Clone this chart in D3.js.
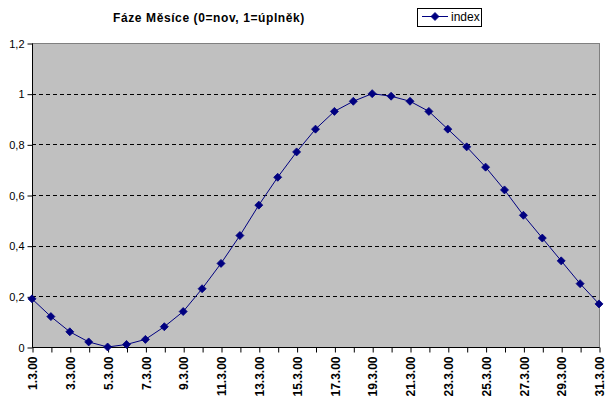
<!DOCTYPE html>
<html><head><meta charset="utf-8">
<script src="https://cdn.jsdelivr.net/npm/d3@7"></script>
<style>body{margin:0;background:#fff}svg{display:block}</style>
</head><body>
<svg id="c" width="615" height="407"></svg>
<script>
const categories = ["1.3.00","2.3.00","3.3.00","4.3.00","5.3.00","6.3.00","7.3.00","8.3.00","9.3.00","10.3.00","11.3.00","12.3.00","13.3.00","14.3.00","15.3.00","16.3.00","17.3.00","18.3.00","19.3.00","20.3.00","21.3.00","22.3.00","23.3.00","24.3.00","25.3.00","26.3.00","27.3.00","28.3.00","29.3.00","30.3.00","31.3.00"];
const indexValues = [0.19,0.12,0.06,0.02,0,0.01,0.03,0.08,0.14,0.23,0.33,0.44,0.56,0.67,0.77,0.86,0.93,0.97,1.0,0.99,0.97,0.93,0.86,0.79,0.71,0.62,0.52,0.43,0.34,0.25,0.17];
const yTicks = [0,0.2,0.4,0.6,0.8,1,1.2];
const title = "Fáze Měsíce (0=nov, 1=úplněk)";
const seriesName = "index";

const svg = d3.select("#c");
const L = 32, R = 599, T = 43, B = 347;
const x = d3.scalePoint().domain(categories).range([L, R]);
const y = d3.scaleLinear().domain([0, 1.2]).range([B, T]);
const navy = "#000080";
const font = "Arial, 'Liberation Sans', sans-serif";

// plot area
svg.append("rect").attr("x", L).attr("y", T).attr("width", R - L).attr("height", B - T)
  .attr("fill", "#c0c0c0").attr("stroke", "#808080").attr("stroke-width", 1)
  .attr("shape-rendering", "crispEdges");

// gridlines
svg.append("g").selectAll("line").data(yTicks.filter(d => d > 0 && d < 1.2)).join("line")
  .attr("x1", L).attr("x2", R).attr("y1", d => Math.round(y(d)) + 0.5).attr("y2", d => Math.round(y(d)) + 0.5)
  .attr("stroke", "#000").attr("stroke-dasharray", "4,3").attr("stroke-width", 1);

// y axis
const yAxis = d3.axisLeft(y).tickValues(yTicks).tickSize(5).tickPadding(3)
  .tickFormat(d => d3.format("~g")(d).replace(".", ","));
const gy = svg.append("g").attr("transform", `translate(${L + 0.5},0.5)`).call(yAxis);
gy.select(".domain").attr("stroke", "#000").attr("d", `M0,${T}V${B}`);
gy.selectAll(".tick line").attr("stroke", "#000");
gy.selectAll("text").attr("font-family", font).attr("font-size", 11).attr("fill", "#000");

// x axis
const xAxis = d3.axisBottom(x).tickSize(5).tickPadding(4)
  .tickFormat((d, i) => i % 2 === 0 ? d : "");
const gx = svg.append("g").attr("transform", `translate(0.5,${B + 0.5})`).call(xAxis);
gx.select(".domain").attr("stroke", "#000").attr("d", `M${L},0H${R}`);
gx.selectAll(".tick line").attr("stroke", "#000");
gx.selectAll("text").attr("font-family", font).attr("font-size", 12).attr("font-weight", "bold")
  .attr("fill", "#000").attr("text-anchor", "end")
  .attr("transform", "rotate(-90)").attr("x", -9).attr("y", 0).attr("dy", "0.35em");

// line
const line = d3.line().x((d, i) => x(categories[i])).y(d => y(d));
svg.append("path").datum(indexValues).attr("d", line).attr("fill", "none")
  .attr("stroke", navy).attr("stroke-width", 1);

const diamond = "M0,-4L4,0L0,4L-4,0Z";
svg.append("g").selectAll("path").data(indexValues).join("path")
  .attr("d", diamond).attr("transform", (d, i) => `translate(${x(categories[i])},${y(d)})`)
  .attr("fill", navy).attr("stroke", navy).attr("stroke-width", 0.8);

// title
svg.append("text").attr("x", 209).attr("y", 22).attr("text-anchor", "middle")
  .attr("font-family", font).attr("font-size", 12).attr("font-weight", "bold")
  .attr("letter-spacing", 0.6).text(title);

// legend
const lg = svg.append("g");
lg.append("rect").attr("x", 417.5).attr("y", 8.5).attr("width", 64).attr("height", 18)
  .attr("fill", "#fff").attr("stroke", "#000");
lg.append("line").attr("x1", 422).attr("x2", 448).attr("y1", 16.5).attr("y2", 16.5).attr("stroke", navy);
lg.append("path").attr("d", diamond).attr("transform", "translate(435,16.5)").attr("fill", navy).attr("stroke", navy).attr("stroke-width", 0.8);
lg.append("text").attr("x", 451).attr("y", 21).attr("font-family", font).attr("font-size", 12).text(seriesName);
</script>
</body></html>
